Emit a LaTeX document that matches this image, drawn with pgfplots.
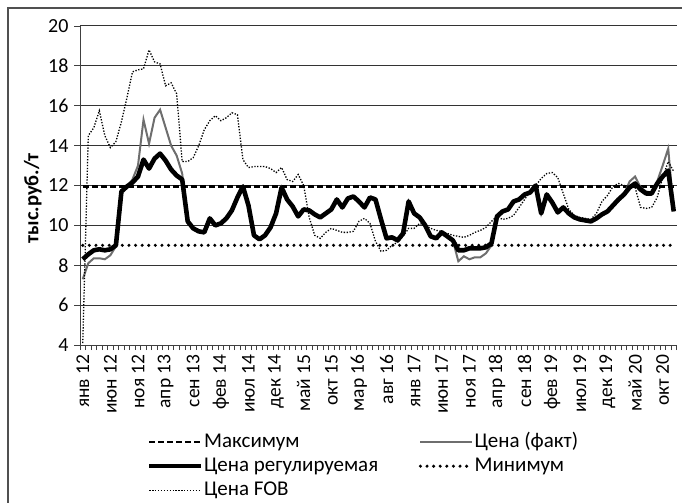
\documentclass[border=0pt]{standalone}
\usepackage{fontspec}
\setmainfont{Carlito}
\usepackage{pgfplots}
\usepackage{pgfplotstable}
\pgfplotsset{compat=1.18}
\definecolor{factgray}{HTML}{6E6E6E}
\definecolor{framegray}{HTML}{505050}

\pgfplotstableread{
i reg fact fob
0 8.30 7.30 4.10
1 8.55 8.10 14.50
2 8.75 8.35 14.90
3 8.80 8.35 15.75
4 8.75 8.30 14.50
5 8.80 8.50 13.90
6 9.00 8.95 14.20
7 11.70 11.70 15.20
8 11.95 11.95 16.40
9 12.15 12.30 17.70
10 12.45 13.00 17.80
11 13.30 15.30 17.85
12 12.85 14.10 18.80
13 13.35 15.40 18.20
14 13.60 15.80 18.10
15 13.25 14.90 17.00
16 12.80 14.00 17.15
17 12.50 13.50 16.60
18 12.30 12.60 13.20
19 10.20 10.20 13.20
20 9.85 9.85 13.40
21 9.70 9.70 14.00
22 9.65 9.65 14.80
23 10.35 10.35 15.25
24 10.00 10.00 15.50
25 10.10 10.10 15.25
26 10.35 10.35 15.40
27 10.75 10.75 15.65
28 11.40 11.40 15.55
29 11.95 11.95 13.30
30 11.00 11.00 12.90
31 9.50 9.50 12.95
32 9.30 9.30 12.95
33 9.50 9.50 12.95
34 9.90 9.90 12.85
35 10.60 10.60 12.65
36 11.90 11.90 12.90
37 11.30 11.30 12.30
38 10.95 10.95 12.20
39 10.45 10.45 12.55
40 10.80 10.80 12.00
41 10.75 10.75 10.40
42 10.55 10.55 9.50
43 10.40 10.40 9.35
44 10.60 10.60 9.65
45 10.80 10.80 9.85
46 11.30 11.30 9.75
47 10.90 10.90 9.65
48 11.35 11.35 9.65
49 11.45 11.45 9.70
50 11.20 11.20 10.20
51 10.90 10.90 10.35
52 11.40 11.40 10.10
53 11.30 11.30 9.20
54 10.30 10.30 8.70
55 9.35 9.35 8.75
56 9.40 9.40 9.00
57 9.25 9.25 9.15
58 9.60 9.60 9.45
59 11.20 11.20 9.85
60 10.60 10.60 9.85
61 10.40 10.40 10.10
62 10.00 10.00 10.00
63 9.45 9.45 9.85
64 9.35 9.35 9.75
65 9.65 9.65 9.70
66 9.45 9.45 9.60
67 9.25 9.25 9.50
68 8.75 8.20 9.45
69 8.75 8.45 9.40
70 8.85 8.30 9.50
71 8.85 8.40 9.65
72 8.85 8.40 9.75
73 8.90 8.60 9.90
74 9.10 9.00 10.20
75 10.45 10.45 10.45
76 10.70 10.70 10.30
77 10.80 10.80 10.35
78 11.20 11.20 10.50
79 11.30 11.30 10.90
80 11.55 11.55 11.30
81 11.65 11.65 11.70
82 12.00 12.00 12.00
83 10.60 10.60 12.35
84 11.55 11.55 12.60
85 11.15 11.15 12.65
86 10.65 10.65 12.40
87 10.90 10.90 11.60
88 10.60 10.60 10.80
89 10.40 10.40 10.50
90 10.30 10.30 10.40
91 10.25 10.25 10.35
92 10.20 10.20 10.30
93 10.35 10.35 10.60
94 10.55 10.55 11.20
95 10.70 10.70 11.50
96 11.00 11.00 11.95
97 11.30 11.30 12.10
98 11.55 11.55 12.00
99 11.90 12.20 11.95
100 12.10 12.45 11.90
101 11.80 11.90 10.90
102 11.60 11.70 10.85
103 11.60 11.65 10.90
104 12.10 12.20 11.40
105 12.45 13.00 12.40
106 12.75 13.85 13.20
107 10.70 10.70 12.70
}\datatable

\pgfplotstableread{
i v
0 11.95
107 11.95
}\maxtable

\pgfplotstableread{
i v
0 9.0
107 9.0
}\mintable

\begin{document}
\begin{tikzpicture}
\useasboundingbox (-80pt,-158pt) rectangle (602pt,345pt);
\draw[framegray, line width=1.3pt] (602pt,337pt) -- (-72pt,337pt) -- (-72pt,-158pt);
\begin{axis}[
  at={(0pt,0pt)}, anchor=south west,
  scale only axis, width=596.5pt, height=319pt,
  xmin=-0.5, xmax=107.5, ymin=4, ymax=20,
  axis lines*=left,
  axis line style={black!75, line width=1pt},
  ytick={4,6,...,20},
  ymajorgrids,
  grid style={black!80, line width=1pt},
  xtick={0,5,...,105},
  xticklabels={янв 12, июн 12, ноя 12, апр 13, сен 13, фев 14, июл 14, дек 14, май 15, окт 15, мар 16, авг 16, янв 17, июн 17, ноя 17, апр 18, сен 18, фев 19, июл 19, дек 19, май 20, окт 20},
  minor xtick={-0.5,0.5,...,107.5},
  major x tick style={draw=none},
  minor x tick style={black!75, line width=0.8pt},
  y tick style={black!75, line width=0.8pt},
  tick align=outside,
  major tick length=6pt,
  minor tick length=5pt,
  /pgf/number format/assume math mode=true,
  yticklabel style={font=\fontsize{20}{23}\selectfont, xshift=-2pt},
  xticklabel style={font=\fontsize{19.5}{22}\selectfont, rotate=90, anchor=east, yshift=0pt},
  ylabel={\bfseries тыс.руб./т},
  ylabel style={font=\fontsize{20.5}{23}\selectfont, at={(axis description cs:-0.079,0.46)}, anchor=center},
  legend columns=2,
  legend cell align=left,
  legend style={draw=none, fill=none, at={(0.107,-0.268)}, anchor=north west,
    font=\fontsize{21}{22}\selectfont, row sep=5pt,
    nodes={inner sep=0.5pt, text height=14pt, text depth=4pt},
    /tikz/every even column/.append style={column sep=40pt}},
  legend image code/.code={\draw[#1] (0pt,0pt) -- (52pt,0pt);},
]
\addplot[black, line width=2.6pt, dash pattern=on 6pt off 3pt] table[x=i, y=v] {\maxtable};
\addlegendentry{Максимум}
\addplot[factgray, line width=2pt] table[x=i, y=fact] {\datatable};
\addlegendentry{Цена (факт)}
\addplot[black, line width=4.6pt, line join=round] table[x=i, y=reg] {\datatable};
\addlegendentry{Цена регулируемая}
\addplot[black, line width=3.4pt, line cap=round, dash pattern=on 0pt off 6.6pt] table[x=i, y=v] {\mintable};
\addlegendentry{Минимум}
\addplot[black, line width=1.3pt, dash pattern=on 1.3pt off 1.6pt] table[x=i, y=fob] {\datatable};
\addlegendentry{Цена FOB}
\end{axis}
\end{tikzpicture}
\end{document}
